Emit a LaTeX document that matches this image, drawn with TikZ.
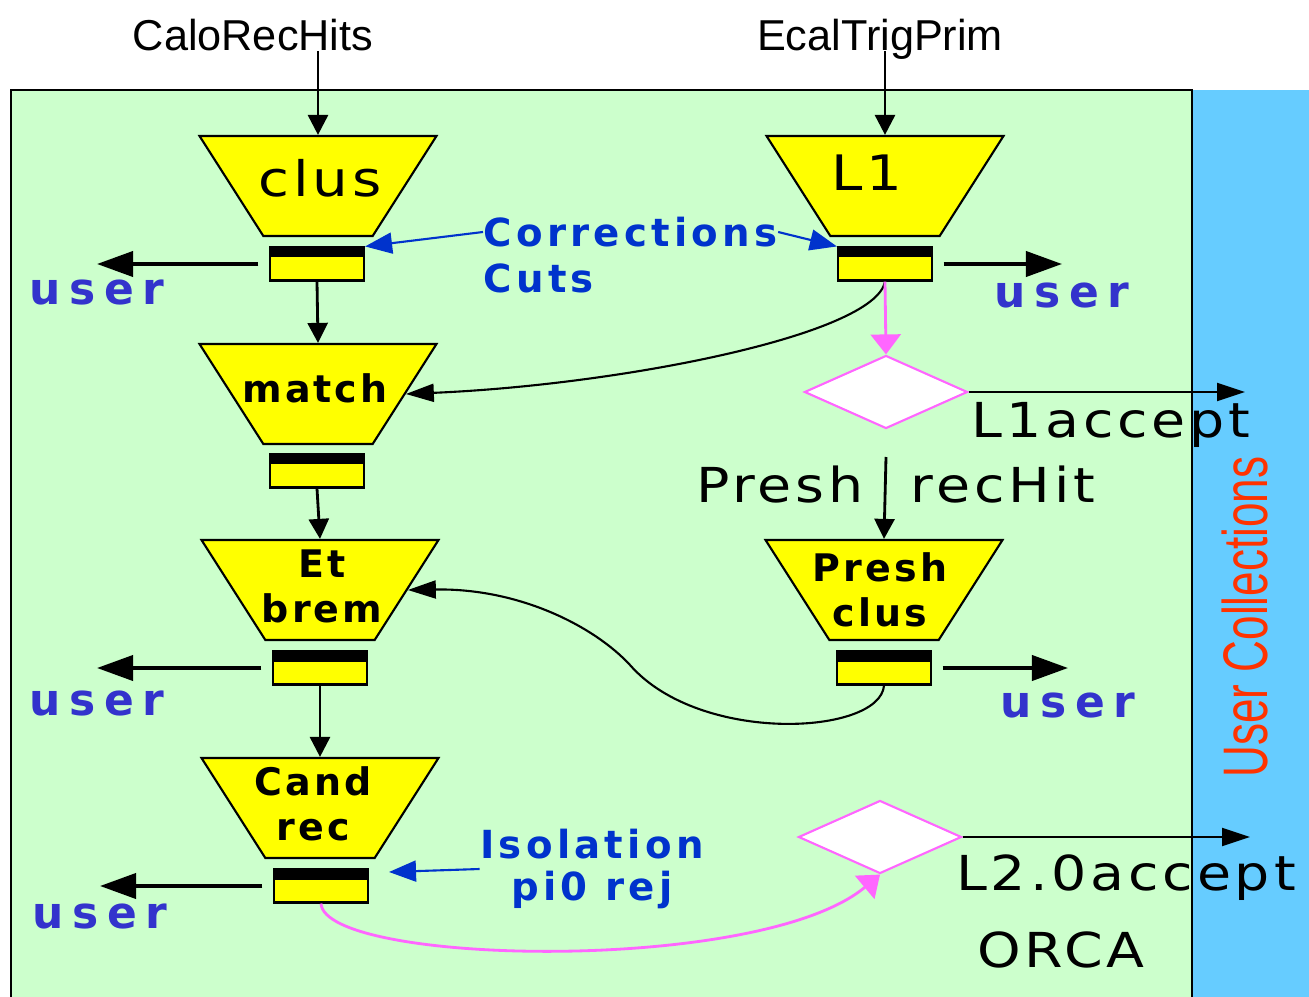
\documentclass[tikz,border=0pt]{standalone}
\usepackage{fontspec}
\usetikzlibrary{shapes.geometric,arrows.meta}

% fonts
\newfontfamily\comic[FakeStretch=1.15, LetterSpace=8]{DejaVu Sans}
\newfontfamily\comicblue[LetterSpace=11]{DejaVu Sans Bold}
\newfontfamily\comicwide[LetterSpace=20]{DejaVu Sans Bold}
\newfontfamily\comicbold[LetterSpace=8]{DejaVu Sans Bold}
\newfontfamily\arialfont{Liberation Sans}

% colours
\definecolor{orcagreen}{HTML}{CCFFCC}
\definecolor{collblue}{HTML}{66CCFF}
\definecolor{procyellow}{HTML}{FFFF00}
\definecolor{trigpink}{HTML}{FF66FF}
\definecolor{corrblue}{HTML}{0033CC}
\definecolor{userblue}{HTML}{3333CC}
\definecolor{collred}{HTML}{FF3300}

\tikzset{
  proc/.style={trapezium, shape border rotate=180,
    trapezium left angle=59.7, trapezium right angle=59.7,
    trapezium stretches=true, minimum width=2.37cm, minimum height=1.0cm,
    inner sep=3pt, fill=procyellow, draw=black, line width=0.6pt},
  outbox/.style={rectangle, draw=black, line width=0.6pt, fill=procyellow,
    minimum width=0.94cm, minimum height=0.33cm, inner sep=0pt,
    path picture={\fill[black] (path picture bounding box.north west)
      rectangle ([yshift=-0.1cm]path picture bounding box.north east);}},
  decision/.style={diamond, draw=trigpink, fill=white, line width=0.6pt,
    minimum width=1.63cm, minimum height=0.73cm, aspect=2.23, inner sep=1pt},
  toplabel/.style={inner sep=0pt, anchor=base, font=\arialfont\fontsize{12.3}{14}\selectfont},
  plabel/.style={inner sep=0pt, font=\comic\fontsize{13.9}{16}\selectfont},
  blabel/.style={inner sep=0pt, align=center, font=\comicbold\fontsize{10.8}{12.8}\selectfont},
  bluetxt/.style={inner sep=0pt, text=corrblue, font=\comicblue\fontsize{11}{12}\selectfont},
  usertxt/.style={inner sep=0pt, text=userblue, font=\comicwide\fontsize{12.5}{14}\selectfont},
  bigtxt/.style={inner sep=0pt, font=\comic\fontsize{13.7}{16}\selectfont},
  arr/.style={-{Triangle[length=0.2cm,width=0.2cm]}, line width=0.8pt},
  userarr/.style={-{Triangle[length=0.36cm,width=0.25cm]}, line width=1.1pt},
  thinarr/.style={-{Triangle[length=0.28cm,width=0.18cm]}, line width=0.6pt},
  bluearr/.style={-{Triangle[length=0.27cm,width=0.21cm]}, draw=corrblue, line width=0.6pt},
  pinkarr/.style={-{Triangle[length=0.2cm,width=0.3cm]}, draw=trigpink, line width=0.8pt},
}

\begin{document}
\begin{tikzpicture}[x=0.01cm, y=-0.01cm]
\useasboundingbox (0,0) rectangle (1309,997);

% ORCA area and the user collections strip
\fill[orcagreen] (11,90) rectangle (1192,1005);
\fill[collblue] (1192,90) rectangle (1315,1005);
\draw[line width=0.8pt] (11,1005) -- (11,90) -- (1192,90) -- (1192,1005);

% inputs
\node[toplabel] (calo) at (253,51) {CaloRecHits};
\node[toplabel] (ecal) at (880,51) {EcalTrigPrim};

% processing stages
\node[proc] (clus) at (318,186) {};
\node[proc] (l1) at (885,186) {};
\node[proc] (match) at (318,394) {};
\node[proc] (etbrem) at (320,590) {};
\node[proc] (presh) at (884,590) {};
\node[proc] (cand) at (320,808) {};

\node[plabel] (clustxt) at (320,178) {clus};
\node[plabel] (l1txt) at (867,173) {L1};
\node[blabel] (matchtxt) at (315,388) {match};
\node[blabel] (etbremtxt) at (322,586) {Et\\brem};
\node[blabel] (preshtxt) at (880,590) {Presh\\clus};
\node[blabel] (candtxt) at (313,804) {Cand\\rec};

% output collections
\node[outbox] (clusbox) at (317,264) {};
\node[outbox] (l1box) at (885,264) {};
\node[outbox] (matchbox) at (317,471) {};
\node[outbox] (etbox) at (320,668) {};
\node[outbox] (preshbox) at (884,668) {};
\node[outbox] (candbox) at (321,886) {};

% trigger decisions
\node[decision] (l1dec) at (886,392) {};
\node[decision] (l2dec) at (880,837) {};

% user labels
\node[usertxt] (u1) at (97,293) {user};
\node[usertxt] (u2) at (1062,296) {user};
\node[usertxt] (u3) at (97,703) {user};
\node[usertxt] (u4) at (1068,705) {user};
\node[usertxt] (u5) at (100,916) {user};

% parameter labels
\node[bluetxt, anchor=west] (corr) at (483,232) {Corrections};
\node[bluetxt, anchor=west] (cuts) at (483,278) {Cuts};
\node[bluetxt, align=center] (iso) at (592,869) {Isolation\\pi0 rej};

% other labels
\node[bigtxt] (l1acc) at (1111,425) {L1accept};
\node[bigtxt] (phit1) at (780,485) {Presh};
\node[bigtxt] (phit2) at (1003,485) {recHit};
\node[bigtxt] (l2acc) at (1126,878) {L2.0accept};
\node[bigtxt] (orca) at (1061,950) {ORCA};
\node[rotate=90, inner sep=0pt, text=collred,
  font=\arialfont\fontsize{17.9}{20}\selectfont] (ucoll) at (1245,617)
  {\scalebox{0.7}[1]{User Collections}};

% free ends
\coordinate (l1out) at (1245,392);
\coordinate (l2out) at (1250,837);
\coordinate (phitin) at (886,457);
\coordinate (isotip) at (389,872);

% main chain
\draw[arr] (calo.base -| clus.north) -- (clus.north);
\draw[arr] (ecal.base -| l1.north) -- (l1.north);
\draw[arr] (clusbox.south) -- (match.north);
\draw[arr] (matchbox.south) -- (etbrem.north);
\draw[arr] (etbox.south) -- (cand.north);
\draw[arr] (phitin) -- (presh.north);

% outputs to the user
\draw[userarr, shorten <=3pt] (clusbox.west) -- (clusbox.west -| u1.center);
\draw[userarr, shorten <=3pt] (l1box.east) -- (l1box.east -| u2.center);
\draw[userarr, shorten <=3pt] (etbox.west) -- (etbox.west -| u3.center);
\draw[userarr, shorten <=3pt] (preshbox.east) -- (preshbox.east -| u4.center);
\draw[userarr, shorten <=3pt] (candbox.west) -- (candbox.west -| u5.center);

% corrections and cuts
\draw[bluearr] (corr.west) -- (clusbox.north east);
\draw[bluearr] (corr.east) -- (l1box.north west);
\draw[bluearr] (iso.west) -- (isotip);

% feedback curves
\draw[thinarr] (l1box.south) .. controls (875,335) and (620,385) .. (match.east);
\draw[thinarr] (preshbox.south) .. controls (880,735) and (700,745) .. (630,665)
  .. controls (595,627) and (520,588) .. (etbrem.east);

% trigger paths
\draw[pinkarr] (l1box.south) -- (l1dec.north);
\draw[pinkarr] (candbox.south) .. controls (325,965) and (760,975) .. (l2dec.south);
\draw[thinarr] (l1dec.east) -- (l1out);
\draw[thinarr] (l2dec.east) -- (l2out);
\end{tikzpicture}
\end{document}
